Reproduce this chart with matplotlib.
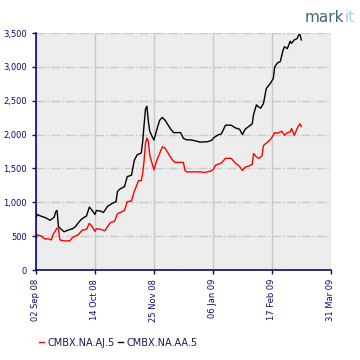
"""CMBX spread chart (AJ vs AA tranche), Sep 2008 - Mar 2009."""

import matplotlib

matplotlib.use("Agg")
import matplotlib.dates as mdates
import matplotlib.pyplot as plt
import matplotlib.ticker as mticker
import pandas as pd

# CMBX.NA.AA.5 (black)
aa_dates = [
    "2008-09-02", "2008-09-03", "2008-09-05", "2008-09-09", "2008-09-12",
    "2008-09-15", "2008-09-16", "2008-09-17", "2008-09-18", "2008-09-20",
    "2008-09-22", "2008-09-25", "2008-09-28", "2008-09-30", "2008-10-03",
    "2008-10-05", "2008-10-08", "2008-10-10", "2008-10-12", "2008-10-14",
    "2008-10-15", "2008-10-18", "2008-10-20", "2008-10-23", "2008-10-26",
    "2008-10-29", "2008-10-30", "2008-11-01", "2008-11-04", "2008-11-06",
    "2008-11-09", "2008-11-11", "2008-11-13", "2008-11-16", "2008-11-17",
    "2008-11-18", "2008-11-19", "2008-11-20", "2008-11-21", "2008-11-22",
    "2008-11-24", "2008-11-25", "2008-11-27", "2008-11-29", "2008-12-01",
    "2008-12-03", "2008-12-07", "2008-12-09", "2008-12-14", "2008-12-16",
    "2008-12-18", "2008-12-22", "2008-12-28", "2009-01-02", "2009-01-05",
    "2009-01-07", "2009-01-10", "2009-01-12", "2009-01-15", "2009-01-19",
    "2009-01-22", "2009-01-25", "2009-01-27", "2009-01-29", "2009-02-01",
    "2009-02-03", "2009-02-04", "2009-02-06", "2009-02-07", "2009-02-09",
    "2009-02-11", "2009-02-13", "2009-02-16", "2009-02-18", "2009-02-19",
    "2009-02-21", "2009-02-23", "2009-02-25", "2009-02-26", "2009-02-28",
    "2009-03-02", "2009-03-03", "2009-03-05", "2009-03-07", "2009-03-08",
    "2009-03-09", "2009-03-10",
]
aa_values = [
    780, 820, 800, 770, 735,
    780, 860, 880, 640, 600,
    565, 590, 610, 640, 720,
    760, 800, 930, 880, 820,
    880, 870, 850, 940, 980,
    1010, 1160, 1200, 1230, 1380,
    1400, 1620, 1700, 1730, 1900,
    2150, 2380, 2420, 2200, 2050,
    1960, 1920, 2070, 2210, 2255,
    2210, 2080, 2030, 2030, 1945,
    1925, 1920, 1890, 1895, 1915,
    1960, 2000, 2010, 2140, 2140,
    2100, 2080, 2000, 2080, 2130,
    2160, 2300, 2440, 2420, 2390,
    2460, 2680, 2760, 2830, 3000,
    3060, 3080, 3250, 3300, 3270,
    3380, 3350, 3400, 3420, 3470,
    3480, 3400,
]

# CMBX.NA.AJ.5 (red)
aj_dates = [
    "2008-09-02", "2008-09-03", "2008-09-06", "2008-09-08", "2008-09-11",
    "2008-09-13", "2008-09-14", "2008-09-17", "2008-09-18", "2008-09-19",
    "2008-09-22", "2008-09-26", "2008-09-28", "2008-10-02", "2008-10-05",
    "2008-10-08", "2008-10-10", "2008-10-12", "2008-10-14", "2008-10-15",
    "2008-10-18", "2008-10-21", "2008-10-25", "2008-10-28", "2008-10-30",
    "2008-11-04", "2008-11-06", "2008-11-09", "2008-11-11", "2008-11-14",
    "2008-11-16", "2008-11-17", "2008-11-18", "2008-11-19", "2008-11-20",
    "2008-11-21", "2008-11-22", "2008-11-24", "2008-11-25", "2008-11-27",
    "2008-11-29", "2008-12-01", "2008-12-03", "2008-12-05", "2008-12-08",
    "2008-12-10", "2008-12-16", "2008-12-17", "2008-12-18", "2008-12-28",
    "2008-12-31", "2009-01-04", "2009-01-06", "2009-01-08", "2009-01-12",
    "2009-01-15", "2009-01-19", "2009-01-22", "2009-01-25", "2009-01-27",
    "2009-01-29", "2009-02-01", "2009-02-03", "2009-02-04", "2009-02-06",
    "2009-02-08", "2009-02-10", "2009-02-11", "2009-02-14", "2009-02-16",
    "2009-02-18", "2009-02-19", "2009-02-21", "2009-02-23", "2009-02-24",
    "2009-02-26", "2009-02-28", "2009-03-02", "2009-03-03", "2009-03-05",
    "2009-03-07", "2009-03-08", "2009-03-09", "2009-03-10",
]
aj_values = [
    460, 520, 500, 460, 460,
    445, 520, 620, 600, 445,
    430, 430, 480, 520, 590,
    600, 690, 640, 570, 610,
    600, 580, 700, 720, 830,
    880, 1010, 1020, 1160, 1320,
    1320, 1430, 1620, 1870, 1950,
    1900, 1700, 1550, 1480, 1620,
    1720, 1820, 1800, 1730, 1630,
    1590, 1590, 1480, 1450, 1450,
    1440, 1460, 1480, 1550, 1580,
    1650, 1650, 1580, 1530, 1470,
    1520, 1540, 1560, 1720, 1670,
    1650, 1690, 1840, 1890, 1930,
    1990, 2030, 2020, 2040, 2050,
    1990, 2030, 2040, 2090, 1990,
    2090, 2130, 2160, 2120,
]

tick_dates = ["2008-09-02", "2008-10-14", "2008-11-25",
              "2009-01-06", "2009-02-17", "2009-03-31"]

NAVY = "#0a0a6e"

fig = plt.figure(figsize=(3.6, 3.6), dpi=100)
ax = fig.add_axes([0.1, 0.25, 0.819, 0.658])
ax.set_facecolor("#ededed")

ax.plot(pd.to_datetime(aa_dates), aa_values, color="black", lw=1.0,
        label="CMBX.NA.AA.5")
ax.plot(pd.to_datetime(aj_dates), aj_values, color="red", lw=1.0,
        label="CMBX.NA.AJ.5")

ticks = pd.to_datetime(tick_dates)
ax.set_xlim(ticks[0], ticks[-1])
ax.set_ylim(0, 3500)
ax.set_xticks(ticks)
ax.xaxis.set_major_formatter(mdates.DateFormatter("%d %b %y"))
ax.set_yticks(range(0, 3501, 500))
ax.yaxis.set_major_formatter(mticker.StrMethodFormatter("{x:,.0f}"))

ax.grid(axis="y", color="#c8c8c8", linestyle="-.", lw=1.0)
ax.grid(axis="x", color="#c8c8c8", linestyle="-", lw=1.0)
ax.set_axisbelow(True)

for side in ("top", "right"):
    ax.spines[side].set_visible(False)
for side in ("left", "bottom"):
    ax.spines[side].set_color(NAVY)
    ax.spines[side].set_linewidth(1.2)

ax.tick_params(colors=NAVY, labelsize=6, length=3, width=1)
ax.tick_params(axis="x", labelrotation=90)

# legend: red entry first, as in the source
handles, labels = ax.get_legend_handles_labels()
fig.legend(handles[::-1], labels[::-1], loc="lower left",
           bbox_to_anchor=(0.085, 0.01), ncol=2, frameon=False,
           handlelength=0.5, handletextpad=0.3, columnspacing=0.4,
           fontsize=7, labelcolor="#1a1a4e")

# markit logo
fig.text(0.956, 0.93, "mark", color="#3d6878", fontsize=11, ha="right",
         va="bottom")
fig.text(0.956, 0.93, "it", color="#a8d2e2", fontsize=11, ha="left",
         va="bottom")

fig.savefig("out.png", dpi=100)
plt.close(fig)
